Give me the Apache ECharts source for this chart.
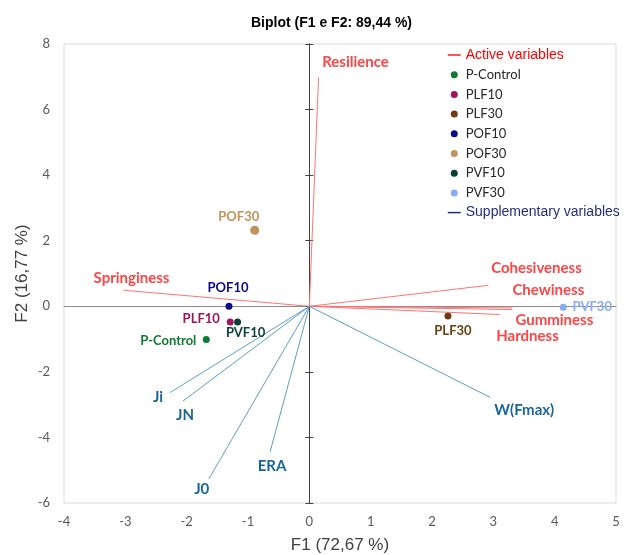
<!DOCTYPE html>
<html><head><meta charset="utf-8">
<script src="https://cdn.jsdelivr.net/npm/echarts@6/dist/echarts.min.js"></script>
<style>html,body{margin:0;padding:0;background:#fff}#c{width:635px;height:555px}</style>
</head><body><div id="c"></div>
<script>
// ---- data ----
const obsNames = ['P-Control', 'PLF10', 'PLF30', 'POF10', 'POF30', 'PVF10', 'PVF30'];
const obsF1 = [-1.68, -1.29, 2.26, -1.31, -0.89, -1.17, 4.14];
const obsF2 = [-1.01, -0.48, -0.30, 0.00, 2.32, -0.48, -0.03];

const activeNames = ['Resilience', 'Springiness', 'Cohesiveness', 'Chewiness', 'Gumminess', 'Hardness'];
const activeF1 = [0.15, -3.03, 2.92, 3.31, 3.31, 3.10];
const activeF2 = [6.98, 0.49, 0.64, -0.05, -0.10, -0.25];

const suppNames = ['Ji', 'JN', 'J0', 'ERA', 'W(Fmax)'];
const suppF1 = [-2.27, -2.06, -1.64, -0.64, 2.95];
const suppF2 = [-2.63, -2.89, -5.27, -4.44, -2.78];

const xTicks = [-4, -3, -2, -1, 0, 1, 2, 3, 4, 5];
const yTicks = [-6, -4, -2, 0, 2, 4, 6, 8];

const titleText = 'Biplot (F1 e F2: 89,44 %)';
const xName = 'F1 (72,67 %)';
const yName = 'F2 (16,77 %)';
const activeLegend = 'Active variables';
const suppLegend = 'Supplementary variables';

// ---- styles ----
const obsColors = {
  'P-Control': '#0E7A33', 'PLF10': '#A0145A', 'PLF30': '#6B3D0F', 'POF10': '#0A0A8C',
  'POF30': '#C0935A', 'PVF10': '#0B3F35', 'PVF30': '#8AAAF5'
};
const obsSizes = { 'POF30': 9 };
const obsLabelOffsets = {
  'P-Control': [-38, 1], 'PLF10': [-29, -3], 'PLF30': [5, 15], 'POF10': [-1, -18],
  'POF30': [-16, -13], 'PVF10': [8, 11], 'PVF30': [29, 0]
};
const activeLabelOffsets = {
  'Resilience': [37, -15], 'Springiness': [8, -12], 'Cohesiveness': [48, -17],
  'Chewiness': [36, -18], 'Gumminess': [42, 11], 'Hardness': [28, 22]
};
const suppLabelOffsets = {
  'Ji': [-12, 5], 'JN': [2, 14], 'J0': [-7, 10], 'ERA': [2, 14], 'W(Fmax)': [34, 13]
};
const activeLine = '#FF7474', activeText = '#FF4545';
const suppLine = '#5C9DCB', suppText = '#1A6598';
const lato = 'Lato, "Open Sans", sans-serif';
const arial = '"Liberation Sans", Arial, sans-serif';

const series = [];
// vectors
activeNames.forEach((n, i) => {
  series.push({
    type: 'line', name: activeLegend, symbol: 'none', silent: true, z: 2,
    lineStyle: { color: activeLine, width: 1 }, itemStyle: { color: activeLine },
    data: [[0, 0], [activeF1[i], activeF2[i]]]
  });
});
suppNames.forEach((n, i) => {
  series.push({
    type: 'line', name: suppLegend, symbol: 'none', silent: true, z: 2,
    lineStyle: { color: suppLine, width: 1 }, itemStyle: { color: suppLine },
    data: [[0, 0], [suppF1[i], suppF2[i]]]
  });
});
// vector labels
series.push({
  type: 'scatter', name: 'activeLabels', symbolSize: 0, silent: true, z: 5,
  itemStyle: { opacity: 1 },
  data: activeNames.map((n, i) => ({
    value: [activeF1[i], activeF2[i]], name: n,
    label: { offset: activeLabelOffsets[n] }
  })),
  label: { show: true, position: 'inside', formatter: p => p.name, color: activeText, opacity: 1,
    fontFamily: lato, fontWeight: 'bold', fontSize: 15 }
});
series.push({
  type: 'scatter', name: 'suppLabels', symbolSize: 0, silent: true, z: 5,
  itemStyle: { opacity: 1 },
  data: suppNames.map((n, i) => ({
    value: [suppF1[i], suppF2[i]], name: n,
    label: { offset: suppLabelOffsets[n] }
  })),
  label: { show: true, position: 'inside', formatter: p => p.name, color: suppText, opacity: 1,
    fontFamily: lato, fontWeight: 'bold', fontSize: 15 }
});
// observations
obsNames.forEach((n, i) => {
  series.push({
    type: 'scatter', name: n, symbol: 'circle', symbolSize: obsSizes[n] || 7, z: 4,
    itemStyle: { color: obsColors[n], opacity: 1 },
    data: [[obsF1[i], obsF2[i]]],
    label: { show: true, position: 'inside', formatter: n, offset: obsLabelOffsets[n],
      color: obsColors[n], fontFamily: lato, fontWeight: 'bold', fontSize: 13 }
  });
});

const legendData = [
  { name: activeLegend, itemStyle: { opacity: 0, borderWidth: 0 },
    lineStyle: { color: '#FF2020', width: 1.5, opacity: 1 },
    textStyle: { color: '#FF0000', fontFamily: arial, fontSize: 14 } },
  ...obsNames.map(n => ({ name: n, icon: 'circle', textStyle: { color: '#262626', fontFamily: lato, fontSize: 13 } })),
  { name: suppLegend, itemStyle: { opacity: 0, borderWidth: 0 },
    lineStyle: { color: '#1F2F7A', width: 1.5, opacity: 1 },
    textStyle: { color: '#1F2F7A', fontFamily: arial, fontSize: 14 } }
];

const tickLabelStyle = { color: '#595959', fontFamily: lato, fontSize: 13 };
const nameStyle = { color: '#404040', fontFamily: arial, fontSize: 17 };

const option = {
  animation: false,
  backgroundColor: '#fff',
  title: { text: titleText, left: 246, top: 11,
    textStyle: { fontFamily: arial, fontWeight: 'bold', fontSize: 14, color: '#000' } },
  grid: { left: 64, right: 19, top: 44, bottom: 52, show: true, borderColor: '#D9D9D9', borderWidth: 1,
    outerBoundsMode: 'none', containLabel: false },
  legend: {
    orient: 'vertical', left: 447, top: 48, padding: 0, itemWidth: 13, itemHeight: 7, itemGap: 5.7,
    textStyle: { lineHeight: 14 }, selectedMode: false, data: legendData
  },
  xAxis: [
    { type: 'value', min: xTicks[0], max: xTicks[xTicks.length - 1], interval: xTicks[1] - xTicks[0],
      position: 'bottom', axisLine: { show: false, onZero: false }, axisTick: { show: false },
      splitLine: { show: false }, axisLabel: Object.assign({ margin: 12 }, tickLabelStyle),
      name: xName, nameLocation: 'middle', nameGap: 34, nameMoveOverlap: false, nameTextStyle: nameStyle },
    { type: 'value', min: xTicks[0], max: xTicks[xTicks.length - 1], interval: xTicks[1] - xTicks[0],
      position: 'top', axisLine: { show: true, onZero: true, lineStyle: { color: '#8C8C8C', width: 1 } },
      axisTick: { show: false }, axisLabel: { show: false }, splitLine: { show: false } }
  ],
  yAxis: [
    { type: 'value', min: yTicks[0], max: yTicks[yTicks.length - 1], interval: yTicks[1] - yTicks[0],
      position: 'left', axisLine: { show: false, onZero: false }, axisTick: { show: false },
      splitLine: { show: false }, axisLabel: Object.assign({ margin: 14 }, tickLabelStyle),
      name: yName, nameLocation: 'middle', nameGap: 33, nameMoveOverlap: false, nameTextStyle: nameStyle },
    { type: 'value', min: yTicks[0], max: yTicks[yTicks.length - 1], interval: yTicks[1] - yTicks[0],
      position: 'left', axisLine: { show: true, onZero: true, lineStyle: { color: '#404040', width: 1 } },
      axisTick: { show: true, inside: false, length: 4, lineStyle: { color: '#404040' } },
      axisLabel: { show: false }, splitLine: { show: false } },
    { type: 'value', min: yTicks[0], max: yTicks[yTicks.length - 1], interval: yTicks[1] - yTicks[0],
      position: 'left', axisLine: { show: true, onZero: true, lineStyle: { color: '#404040', width: 1 } },
      axisTick: { show: true, inside: true, length: 4, lineStyle: { color: '#404040' } },
      axisLabel: { show: false }, splitLine: { show: false } }
  ],
  series: series
};

const chart = echarts.init(document.getElementById('c'), null, { renderer: 'canvas' });
chart.setOption(option);
</script>
</body></html>
